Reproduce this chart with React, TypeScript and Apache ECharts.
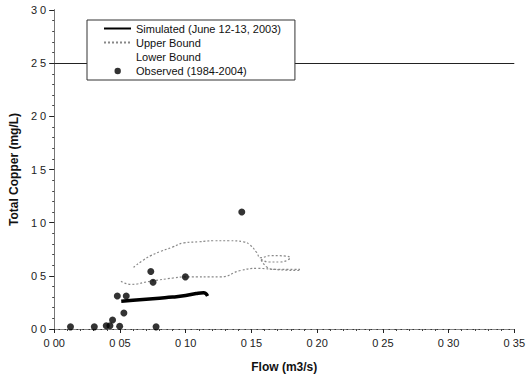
import React, { useEffect, useRef } from "react";
import * as echarts from "echarts";

const simulated: number[][] = [
  [0.051, 0.26], [0.06, 0.27], [0.07, 0.28], [0.08, 0.29], [0.09, 0.3],
  [0.1, 0.315], [0.108, 0.333], [0.1136, 0.34], [0.1167, 0.31],
];
const upperBound: number[][] = [
  [0.0603, 0.58], [0.068, 0.65], [0.0735, 0.69], [0.081, 0.73], [0.09, 0.77],
  [0.0988, 0.81], [0.11, 0.82], [0.1215, 0.83], [0.133, 0.83], [0.144, 0.82],
  [0.149, 0.79], [0.154, 0.72], [0.157, 0.67], [0.165, 0.69], [0.1795, 0.67],
  [0.172, 0.63], [0.163, 0.63], [0.157, 0.66], [0.162, 0.58], [0.168, 0.56],
  [0.187, 0.55],
];
const lowerBound: number[][] = [
  [0.0508, 0.45], [0.058, 0.42], [0.0735, 0.45], [0.091, 0.48], [0.0998, 0.49],
  [0.1265, 0.49], [0.1417, 0.55], [0.155, 0.57], [0.17, 0.56], [0.187, 0.56],
];
const observed: number[][] = [
  [0.0124, 0.02], [0.0305, 0.02], [0.0396, 0.03], [0.0424, 0.03], [0.0444, 0.085],
  [0.048, 0.31], [0.0498, 0.025], [0.053, 0.15], [0.0548, 0.31], [0.0735, 0.54],
  [0.0752, 0.44], [0.0775, 0.02], [0.0998, 0.49], [0.1427, 1.1],
];
const standardLevel = 2.5;

export default function App() {
  const ref = useRef<HTMLDivElement>(null);
  useEffect(() => {
    const chart = echarts.init(ref.current!, null, { renderer: "svg" });
    const font = "Liberation Sans, Arial, sans-serif";
    chart.setOption({
      animation: false,
      backgroundColor: "#fff",
      textStyle: { fontFamily: font },
      grid: { left: 53, right: 12, top: 10, bottom: 48 },
      legend: {
        orient: "vertical",
        left: 87,
        top: 20,
        z: 10,
        padding: [3, 14, 3, 16],
        itemGap: 3,
        itemWidth: 27,
        itemHeight: 12,
        borderColor: "#333",
        borderWidth: 1,
        backgroundColor: "#fff",
        textStyle: { fontFamily: font, fontSize: 11, color: "#111" },
        data: [
          { name: "Simulated (June 12-13, 2003)", itemStyle: { opacity: 0 } },
          { name: "Upper Bound", itemStyle: { opacity: 0 } },
          { name: "Lower Bound", itemStyle: { opacity: 0 }, lineStyle: { opacity: 0 } },
          {
            name: "Observed (1984-2004)",
            icon: "path://M0,0M27,12M10.5,6a3.2,3.2 0 1,0 6.4,0a3.2,3.2 0 1,0 -6.4,0Z",
          },
        ],
      },
      xAxis: [
        {
          type: "value",
          min: 0,
          max: 0.35,
          interval: 0.05,
          name: "Flow (m3/s)",
          nameLocation: "middle",
          nameGap: 32,
          nameTextStyle: { fontFamily: font, fontWeight: "bold", fontSize: 12, color: "#111" },
          axisLine: { onZero: false, lineStyle: { color: "#222" } },
          axisTick: { length: 4, lineStyle: { color: "#222" } },
          minorTick: { show: true, splitNumber: 5, length: 2, lineStyle: { color: "#444" } },
          axisLabel: {
            fontSize: 11, color: "#222", margin: 8,
            formatter: (v: number) => v.toFixed(2).replace(".", " "),
          },
          splitLine: { show: false },
        },
        {
          type: "value",
          position: "top",
          min: 0,
          max: 0.35,
          axisLine: { show: true, lineStyle: { color: "#888", type: "dashed" } },
          axisTick: { show: false },
          axisLabel: { show: false },
          splitLine: { show: false },
        },
      ],
      yAxis: [
        {
          type: "value",
          min: 0,
          max: 3,
          interval: 0.5,
          name: "Total Copper (mg/L)",
          nameLocation: "middle",
          nameGap: 32,
          nameTextStyle: { fontFamily: font, fontWeight: "bold", fontSize: 12, color: "#111" },
          axisLine: { show: true, lineStyle: { color: "#222" } },
          axisTick: { show: true, length: 5, lineStyle: { color: "#222" } },
          minorTick: { show: true, splitNumber: 5, length: 2, lineStyle: { color: "#444" } },
          axisLabel: {
            fontSize: 11, color: "#222", margin: 8,
            formatter: (v: number) => v.toFixed(1).replace(".", " "),
          },
          splitLine: { show: false },
        },
        {
          type: "value",
          position: "right",
          min: 0,
          max: 3,
          axisLine: { show: true, lineStyle: { color: "#777" } },
          axisTick: { show: false },
          axisLabel: { show: false },
          splitLine: { show: false },
        },
      ],
      series: [
        {
          name: "Simulated (June 12-13, 2003)",
          type: "line",
          data: simulated,
          symbol: "none",
          smooth: true,
          lineStyle: { color: "#000", width: 3.5 },
          itemStyle: { color: "#000" },
          z: 4,
          markLine: {
            silent: true,
            symbol: "none",
            label: { show: false },
            lineStyle: { color: "#222", width: 1, type: "solid" },
            data: [{ yAxis: standardLevel }],
          },
        },
        {
          name: "Upper Bound",
          type: "line",
          data: upperBound,
          symbol: "none",
          smooth: true,
          lineStyle: { color: "#888", width: 1.2, type: [2, 2] },
          itemStyle: { color: "#888" },
        },
        {
          name: "Lower Bound",
          type: "line",
          data: lowerBound,
          symbol: "none",
          smooth: true,
          lineStyle: { color: "#888", width: 1.2, type: [2, 2] },
          itemStyle: { color: "#888" },
        },
        {
          name: "Observed (1984-2004)",
          type: "scatter",
          data: observed,
          symbol: "circle",
          symbolSize: 7,
          itemStyle: { color: "#000" },
          z: 5,
        },
      ],
    });
    return () => chart.dispose();
  }, []);
  return <div ref={ref} style={{ width: 528, height: 378, position: "absolute", left: 0, top: 0 }} />;
}
